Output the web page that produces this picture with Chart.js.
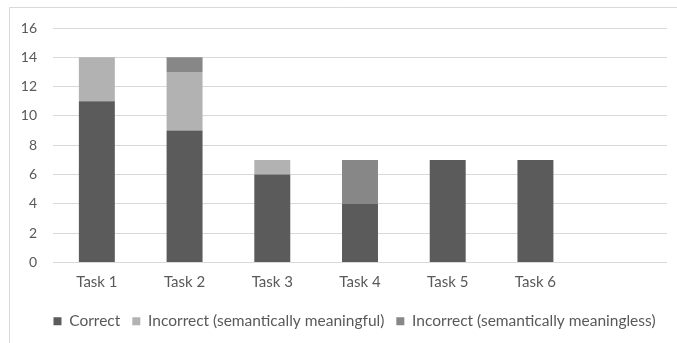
<!DOCTYPE html>
<html>
<head>
<meta charset="utf-8">
<script src="https://cdn.jsdelivr.net/npm/chart.js@4"></script>
<style>
  html, body { margin: 0; padding: 0; background: #fff; }
  #wrap { width: 677px; height: 343px; position: relative; }
</style>
</head>
<body>
<div id="wrap"><canvas id="c" width="677" height="343"></canvas></div>
<script>
// Categories (the last slot is intentionally left empty)
const categories = ['Task 1', 'Task 2', 'Task 3', 'Task 4', 'Task 5', 'Task 6', ''];

// Counts per outcome
const correct      = [11, 9, 6, 4, 7, 7, null];
const meaningful   = [3, 4, 1, 0, 0, 0, null];
const meaningless  = [0, 1, 0, 3, 0, 0, null];

const seriesNames = ['Correct', 'Incorrect (semantically meaningful)', 'Incorrect (semantically meaningless)'];
const seriesColors = ['#5b5b5b', '#b2b2b2', '#878787'];

// Y axis ticks
const yTicks = [0, 2, 4, 6, 8, 10, 12, 14, 16];

const textColor = '#595959';
const gridColor = '#d9d9d9';
const fontFamily = 'Lato, "Open Sans", "Noto Sans", sans-serif';

// Thin frame around the chart, open on the right/bottom edges
const frame = {
  id: 'frame',
  beforeDraw(chart) {
    const ctx = chart.ctx;
    ctx.save();
    ctx.strokeStyle = gridColor;
    ctx.lineWidth = 1;
    ctx.beginPath();
    ctx.moveTo(9.5, chart.height);
    ctx.lineTo(9.5, 7.5);
    ctx.lineTo(chart.width, 7.5);
    ctx.stroke();
    ctx.restore();
  }
};

// Nudge the legend row a little to the right
const legendShift = {
  id: 'legendShift',
  afterLayout(chart) {
    const lg = chart.legend;
    if (lg) { lg.left += 16; lg.right += 16; }
  }
};

new Chart(document.getElementById('c'), {
  type: 'bar',
  data: {
    labels: categories,
    datasets: [
      { label: seriesNames[0], data: correct, backgroundColor: seriesColors[0] },
      { label: seriesNames[1], data: meaningful, backgroundColor: seriesColors[1] },
      { label: seriesNames[2], data: meaningless, backgroundColor: seriesColors[2] }
    ]
  },
  options: {
    responsive: false,
    animation: false,
    devicePixelRatio: 1,
    layout: { padding: { left: 10, right: 10, top: 28, bottom: 4 } },
    datasets: { bar: { categoryPercentage: 1, barPercentage: 0.41, borderWidth: 0 } },
    scales: {
      x: {
        stacked: true,
        grid: { display: false, drawTicks: false },
        border: { display: false },
        ticks: { color: textColor, font: { family: fontFamily, size: 15 }, padding: 11, maxRotation: 0 },
        afterFit(s) { s.height = 39; }
      },
      y: {
        stacked: true,
        min: 0,
        max: 16,
        afterBuildTicks(s) { s.ticks = yTicks.map(v => ({ value: v })); },
        grid: { color: gridColor, drawTicks: false },
        border: { display: false },
        ticks: { color: textColor, font: { family: fontFamily, size: 14 }, padding: 16 },
        afterFit(s) { s.width = 43; }
      }
    },
    plugins: {
      legend: {
        position: 'bottom',
        labels: {
          color: textColor,
          font: { family: fontFamily, size: 15.5 },
          boxWidth: 8,
          boxHeight: 8,
          padding: 12
        }
      },
      tooltip: { enabled: false }
    }
  },
  plugins: [frame, legendShift]
});
</script>
</body>
</html>
